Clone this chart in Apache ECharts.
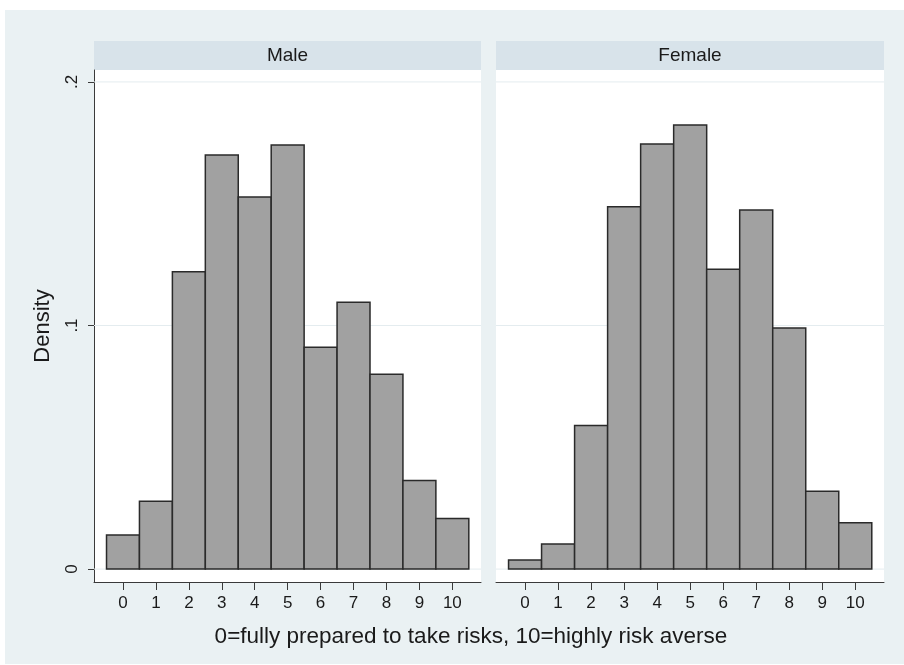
<!DOCTYPE html>
<html>
<head>
<meta charset="utf-8">
<script src="https://cdn.jsdelivr.net/npm/echarts@6/dist/echarts.min.js"></script>
<style>
html,body{margin:0;padding:0;background:#fff;}
#bg{position:absolute;left:5px;top:10px;width:899px;height:654px;background:#eaf1f3;}
#chart{position:absolute;left:0;top:0;width:904px;height:665px;}
</style>
</head>
<body>
<div id="bg"></div>
<div id="chart"></div>
<script>
const categories = [0, 1, 2, 3, 4, 5, 6, 7, 8, 9, 10];
const maleDensity = [0.0140, 0.0279, 0.1221, 0.1700, 0.1528, 0.1741, 0.0911, 0.1095, 0.0800, 0.0364, 0.0208];
const femaleDensity = [0.0037, 0.0103, 0.0590, 0.1488, 0.1745, 0.1823, 0.1231, 0.1474, 0.0990, 0.0320, 0.0190];
const panelTitles = ['Male', 'Female'];
const yTicks = [0, 0.1, 0.2];
const yTickLabels = ['0', '.1', '.2'];
const xTitle = '0=fully prepared to take risks, 10=highly risk averse';
const yTitle = 'Density';

const FONT = 'Liberation Sans, Arial, sans-serif';
const chart = echarts.init(document.getElementById('chart'), null, {renderer: 'canvas'});

const grids = [
  {left: 94, top: 70, width: 387, height: 512},
  {left: 496, top: 70, width: 388, height: 512}
];

function xAxisCfg(i) {
  return {
    type: 'value', gridIndex: i, min: -0.88, max: 10.87,
    axisLine: {show: true, onZero: false, lineStyle: {color: '#3a3a3a', width: 1}},
    axisTick: {show: true, length: 8, customValues: categories, lineStyle: {color: '#3a3a3a'}},
    axisLabel: {show: true, customValues: categories, margin: 13, fontSize: 17, color: '#1a1a1a', fontFamily: FONT},
    splitLine: {show: false}
  };
}
function yAxisCfg(i) {
  const showAxis = i === 0;
  return {
    type: 'value', gridIndex: i, min: -0.0053, max: 0.2049,
    name: showAxis ? yTitle : '', nameLocation: 'middle', nameRotate: 90, nameGap: 40,
    nameTextStyle: {fontSize: 22, color: '#1a1a1a', fontFamily: FONT},
    axisLine: {show: showAxis, onZero: false, lineStyle: {color: '#3a3a3a', width: 1}},
    axisTick: {show: showAxis, length: 6, customValues: yTicks, lineStyle: {color: '#3a3a3a'}},
    axisLabel: {show: showAxis, customValues: yTicks, rotate: 90, margin: 13, fontSize: 17, color: '#1a1a1a', fontFamily: FONT,
      formatter: function (v) { const k = yTicks.findIndex(t => Math.abs(t - v) < 1e-9); return k >= 0 ? yTickLabels[k] : ''; }},
    splitLine: {show: false}
  };
}

function gridSeries(i) {
  return {
    type: 'custom', xAxisIndex: i, yAxisIndex: i, z: 1, silent: true,
    data: yTicks.map(v => [0, v]),
    renderItem: function (params, api) {
      const cs = params.coordSys;
      const y = api.coord([0, api.value(1)])[1];
      return {type: 'line', shape: {x1: cs.x, y1: y, x2: cs.x + cs.width, y2: y},
        style: {stroke: '#e4ecef', lineWidth: 1}};
    }
  };
}
function barSeries(i, values) {
  return {
    type: 'custom', xAxisIndex: i, yAxisIndex: i, z: 3, silent: true,
    data: categories.map((c, k) => [c, values[k]]),
    renderItem: function (params, api) {
      const p0 = api.coord([api.value(0) - 0.5, api.value(1)]);
      const p1 = api.coord([api.value(0) + 0.5, 0]);
      return {type: 'rect', shape: {x: p0[0], y: p0[1], width: p1[0] - p0[0], height: p1[1] - p0[1]},
        style: {fill: '#a1a1a1', stroke: '#2a2a2a', lineWidth: 1.5}};
    }
  };
}

const graphics = [];
grids.forEach((g, i) => {
  graphics.push({type: 'rect', left: g.left, top: 41, shape: {width: g.width, height: 29}, style: {fill: '#d8e3ea'}, z: 0});
  graphics.push({type: 'text', x: g.left + g.width / 2, y: 55.5, style: {text: panelTitles[i], font: '19px ' + FONT, fill: '#1a1a1a', textAlign: 'center', textVerticalAlign: 'middle'}, z: 1});
});
graphics.push({type: 'text', x: 471, y: 637, style: {text: xTitle, font: '22.5px ' + FONT, fill: '#1a1a1a', textAlign: 'center', textVerticalAlign: 'middle'}});

chart.setOption({
  animation: false,
  backgroundColor: 'transparent',
  grid: grids.map(g => Object.assign({show: true, backgroundColor: '#ffffff', borderWidth: 0}, g)),
  xAxis: [xAxisCfg(0), xAxisCfg(1)],
  yAxis: [yAxisCfg(0), yAxisCfg(1)],
  series: [gridSeries(0), gridSeries(1), barSeries(0, maleDensity), barSeries(1, femaleDensity)],
  graphic: graphics
});
</script>
</body>
</html>
